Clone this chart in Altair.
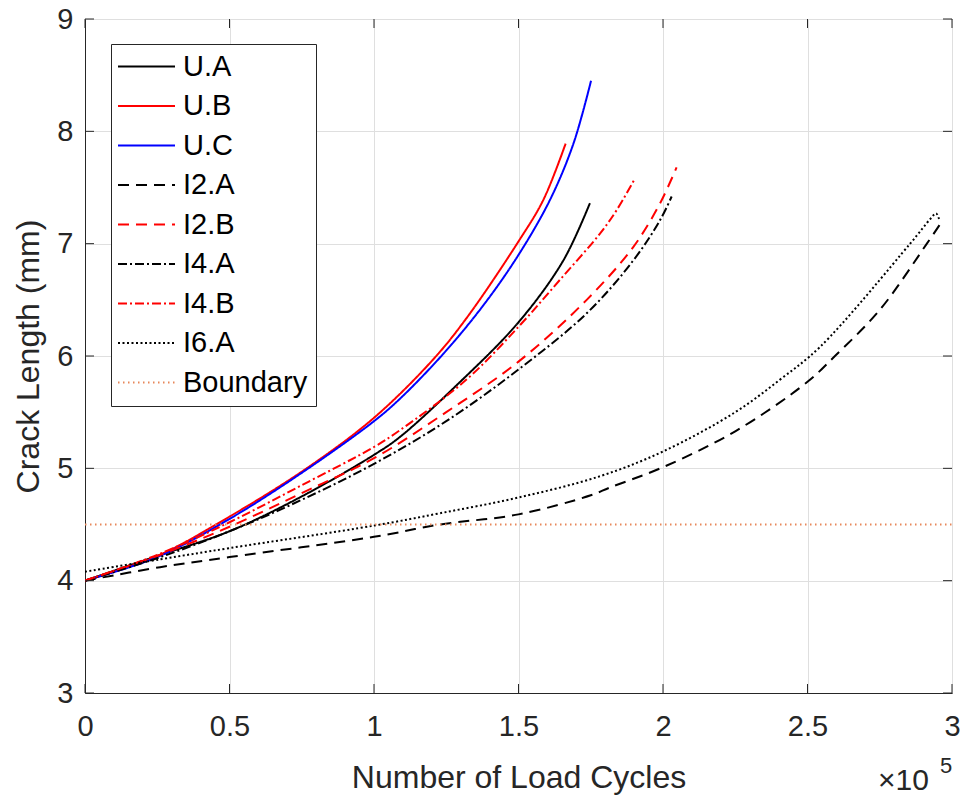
import altair as alt
import pandas as pd

# ---------------- data (x in load cycles, y in mm) ----------------
series_names = ["U.A", "U.B", "U.C", "I2.A", "I2.B", "I4.A", "I4.B", "I6.A", "Boundary"]

ua_x = [0, 25000, 50000, 75000, 100000, 109000, 128600, 150000, 165500, 174700]
ua_y = [4.00, 4.22, 4.44, 4.75, 5.12, 5.28, 5.74, 6.30, 6.85, 7.36]

ub_x = [0, 25000, 50000, 76700, 100000, 120500, 132100, 150000, 158600, 166300]
ub_y = [4.00, 4.22, 4.57, 5.00, 5.45, 5.97, 6.34, 7.02, 7.39, 7.89]

uc_x = [0, 25000, 50000, 75000, 100000, 109000, 124000, 137800, 150000, 160900, 169000, 175100]
uc_y = [4.00, 4.21, 4.55, 4.96, 5.42, 5.62, 6.02, 6.45, 6.90, 7.39, 7.89, 8.45]

i2a_x = [0, 26000, 50000, 100000, 122800, 150000, 175000, 181700, 200000, 225000, 250000, 259500, 275000, 291300, 295800]
i2a_y = [4.00, 4.12, 4.21, 4.39, 4.50, 4.59, 4.76, 4.83, 5.01, 5.33, 5.77, 6.00, 6.41, 7.00, 7.17]

i2b_x = [0, 25000, 50000, 75000, 100000, 125000, 150000, 173600, 189700, 199000, 204700]
i2b_y = [4.00, 4.22, 4.48, 4.78, 5.09, 5.50, 5.95, 6.50, 6.97, 7.36, 7.68]

i4a_x = [0, 25000, 50000, 75000, 100000, 125000, 150000, 173600, 189700, 199000, 203000]
i4a_y = [4.00, 4.20, 4.44, 4.72, 5.04, 5.42, 5.88, 6.38, 6.85, 7.21, 7.42]

i4b_x = [0, 25000, 50000, 75000, 100000, 109000, 132000, 150000, 164400, 178200, 184000, 190300]
i4b_y = [4.00, 4.23, 4.52, 4.85, 5.19, 5.34, 5.79, 6.26, 6.68, 7.09, 7.30, 7.58]

i6a_x = [0, 26000, 50000, 100000, 122800, 150000, 178200, 200000, 225000, 240500, 254300, 285500, 292500, 294500, 295500]
i6a_y = [4.08, 4.19, 4.29, 4.49, 4.60, 4.74, 4.93, 5.15, 5.50, 5.79, 6.08, 7.00, 7.22, 7.27, 7.22]

boundary_x = [0, 300000]
boundary_y = [4.5, 4.5]

x_tick_values = [0, 50000, 100000, 150000, 200000, 250000, 300000]
y_tick_values = [3, 4, 5, 6, 7, 8, 9]

# ---------------- styles ----------------
series_colors = ["#000000", "#FF0000", "#0000FF", "#000000", "#FF0000",
                 "#000000", "#FF0000", "#000000", "#E8875A"]
series_dashes = [[1, 0], [1, 0], [1, 0], [11, 7], [11, 7],
                 [9, 3, 2, 3], [9, 3, 2, 3], [2, 2.5], [1.5, 3.5]]
series_widths = [2, 2, 2, 2, 2, 2, 2, 2.2, 1.2]

xs = [ua_x, ub_x, uc_x, i2a_x, i2b_x, i4a_x, i4b_x, i6a_x, boundary_x]
ys = [ua_y, ub_y, uc_y, i2a_y, i2b_y, i4a_y, i4b_y, i6a_y, boundary_y]
rows = []
for name, xv, yv in zip(series_names, xs, ys):
    for a, b in zip(xv, yv):
        rows.append({"series": name, "cycles": a, "length": b})
df = pd.DataFrame(rows)

FONT = "Liberation Sans"
W, H = 867, 674

legend_kw = dict(
    title=None, orient="none", legendX=26, legendY=25, direction="vertical",
    symbolType="M-3,0H3", symbolSize=361, symbolStrokeWidth=2,
    labelFontSize=29, labelFont=FONT, labelColor="#000000", labelLimit=400,
    padding=8, rowPadding=9.5, labelOffset=22, symbolOffset=13,
    strokeColor="#262626", fillColor="#FFFFFF", cornerRadius=0,
)

lines = alt.Chart(df).mark_line(interpolate="catmull-rom", clip=True).encode(
    x=alt.X("cycles:Q",
            scale=alt.Scale(domain=[0, 300000], nice=False, zero=False),
            axis=alt.Axis(values=x_tick_values, labelExpr="datum.value/100000 + ''",
                          labelFlush=False,
                          title="Number of Load Cycles", titleY=94,
                          titleBaseline="alphabetic", labelPadding=19)),
    y=alt.Y("length:Q",
            scale=alt.Scale(domain=[3, 9], nice=False, zero=False),
            axis=alt.Axis(values=y_tick_values, format="d", title="Crack Length (mm)",
                          labelFlush=False,
                          titleX=-47, titleY=H / 2, titleAngle=270,
                          titleBaseline="alphabetic", labelPadding=12)),
    color=alt.Color("series:N", sort=series_names,
                    scale=alt.Scale(domain=series_names, range=series_colors),
                    legend=alt.Legend(**legend_kw)),
    strokeDash=alt.StrokeDash("series:N", sort=series_names,
                              scale=alt.Scale(domain=series_names, range=series_dashes),
                              legend=alt.Legend(**legend_kw)),
    strokeWidth=alt.StrokeWidth("series:N",
                                scale=alt.Scale(domain=series_names, range=series_widths),
                                legend=None),
)

xt = pd.DataFrame({"cycles": x_tick_values})
yt = pd.DataFrame({"length": y_tick_values})
tick_color = "#262626"
bottom_ticks = alt.Chart(xt).mark_rule(color=tick_color, strokeWidth=1).encode(
    x="cycles:Q", y=alt.value(H), y2=alt.value(H - 9))
top_ticks = alt.Chart(xt).mark_rule(color=tick_color, strokeWidth=1).encode(
    x="cycles:Q", y=alt.value(0), y2=alt.value(9))
left_ticks = alt.Chart(yt).mark_rule(color=tick_color, strokeWidth=1).encode(
    y="length:Q", x=alt.value(0), x2=alt.value(9))
right_ticks = alt.Chart(yt).mark_rule(color=tick_color, strokeWidth=1).encode(
    y="length:Q", x=alt.value(W), x2=alt.value(W - 9))

exp_base = alt.Chart(pd.DataFrame({"t": ["\u00d710"]})).mark_text(
    align="left", baseline="alphabetic", font=FONT, fontSize=30, color="#262626"
).encode(text="t:N", x=alt.value(793), y=alt.value(771))
exp_pow = alt.Chart(pd.DataFrame({"t": ["5"]})).mark_text(
    align="left", baseline="alphabetic", font=FONT, fontSize=22, color="#262626"
).encode(text="t:N", x=alt.value(855), y=alt.value(754))

chart = alt.layer(
    lines, bottom_ticks, top_ticks, left_ticks, right_ticks, exp_base, exp_pow
).properties(
    width=W, height=H,
    autosize=alt.AutoSizeParams(type="none"),
    padding={"left": 85, "top": 19, "right": 13, "bottom": 103},
    background="white",
).configure_view(
    stroke="#262626", strokeWidth=1
).configure_axis(
    grid=True, gridColor="#DFDFDF", gridWidth=1,
    domain=True, domainColor="#262626", domainWidth=1,
    ticks=False,
    labelFont=FONT, labelFontSize=29, labelColor="#262626",
    titleFont=FONT, titleFontSize=32, titleColor="#262626", titleFontWeight="normal",
)

chart.save("out.html", embed_options={"renderer": "svg", "actions": False})
